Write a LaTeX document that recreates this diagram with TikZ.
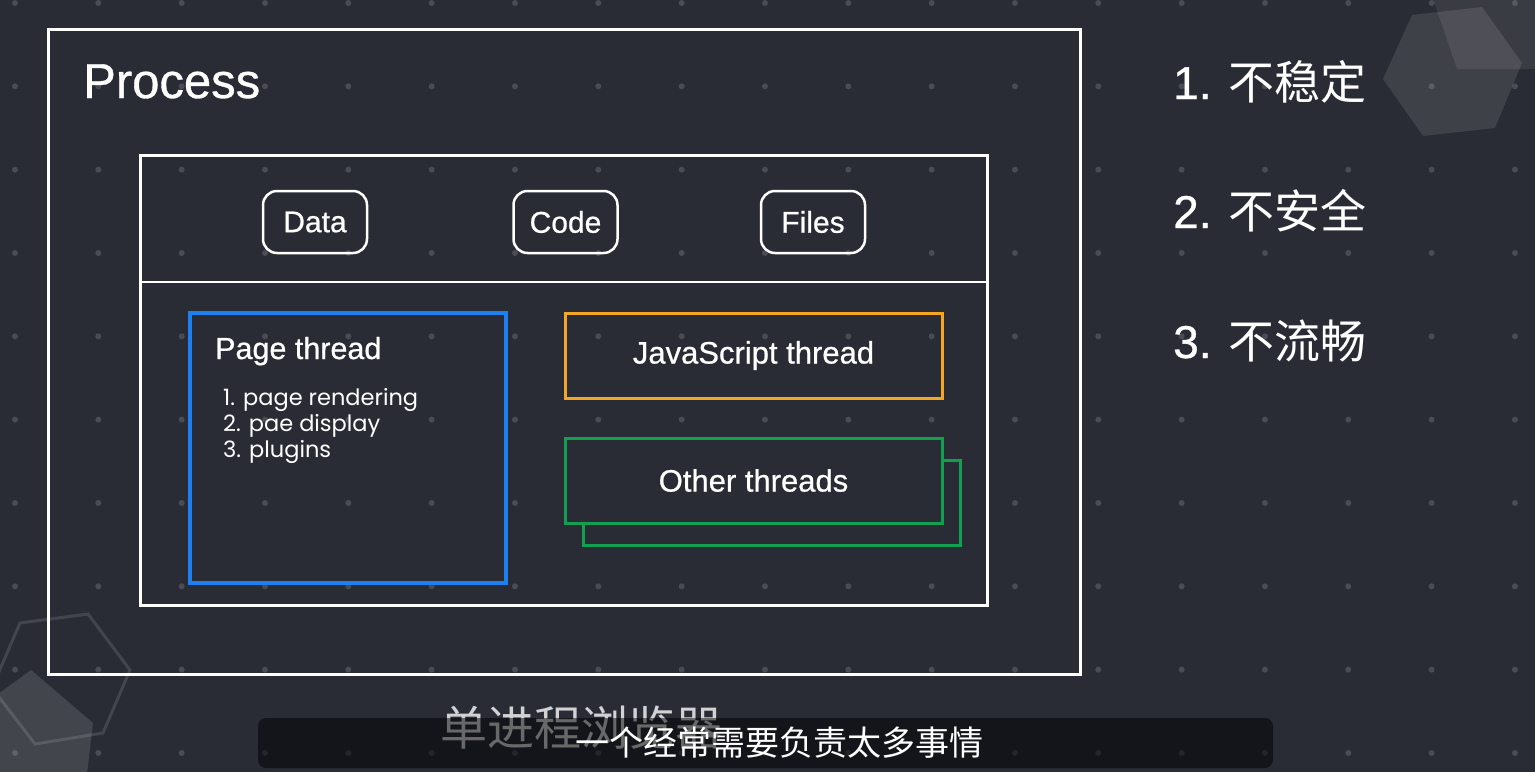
\documentclass[tikz,border=0pt]{standalone}
\usepackage{fontspec}
\setmainfont{Liberation Sans}[FakeBold=0.7]
\newfontfamily\heavy{Liberation Sans}[FakeBold=0.7]
\newfontfamily\cjkfont{Noto Sans CJK SC}
\newfontfamily\listfont{Poppins}
\usetikzlibrary{positioning}
\usepackage{xcolor}
\definecolor{slate}{HTML}{2A2C35}
\definecolor{dotgray}{HTML}{4A4C55}
\definecolor{pageblue}{HTML}{1E80F0}
\definecolor{jsorange}{HTML}{F5A623}
\definecolor{othergreen}{HTML}{10A050}
\definecolor{titlegray}{HTML}{D2D2D4}

\begin{document}
\begin{tikzpicture}[x=1pt, y=-1pt, every node/.style={text=white, inner sep=0pt},
    frame/.style={draw=white, line width=3pt},
    pill/.style={draw=white, line width=2.5pt, rounded corners=14pt, minimum width=104pt, minimum height=62pt, font=\heavy\fontsize{30}{34}\selectfont},
    thread/.style={line width=3pt, minimum width=377pt, minimum height=85pt, font=\heavy\fontsize{31}{34}\selectfont},
    issue/.style={anchor=base west, font=\heavy\fontsize{46}{52}\selectfont}]
  % background, dot grid and hexagons
  \fill[slate] (0,0) rectangle (1535,772);
  \useasboundingbox (0,0) rectangle (1535,772);
  \foreach \i in {0,...,18}
    \foreach \j in {0,...,9}
      \fill[dotgray] ({15+83.33*\i},{3+83.33*\j}) circle (3pt);
  \fill[white, opacity=0.1] (1383,79) -- (1412,15) -- (1482,7) -- (1522,63) -- (1495,128) -- (1423,136) -- cycle;
  \fill[white, opacity=0.08] (1430,-10) -- (1457,69) -- (1545,69) -- (1545,-10) -- cycle;
  \draw[white, opacity=0.12, line width=3pt] (20,623) -- (88,614) -- (130,670) -- (103,733) -- (35,744) -- (-8,688) -- cycle;
  \fill[white, opacity=0.12] (-10,700) -- (31,670) -- (93,723) -- (86,782) -- (-10,782) -- cycle;

  % process
  \node[frame, minimum width=1032pt, minimum height=645pt] (process) at (564,351.5) {};
  \node[anchor=base west, font=\heavy\fontsize{49}{58}\selectfont] (proclabel) at (83,98) {Process};
  \node[frame, minimum width=847pt, minimum height=450pt] (shared) at (563.5,380) {};
  \draw[white, line width=2.5pt] (140,282) -- (987,282);

  % shared resources
  \node[pill] (data) at (315,222) {Data};
  \node[pill, right=144pt of data] (code) {Code};
  \node[pill, right=141pt of code] (files) {Files};

  % threads
  \node[thread, draw=pageblue, line width=3.5pt, minimum width=316pt, minimum height=270pt] (page) at (348,448) {};
  \node[anchor=base west, font=\heavy\fontsize{30.5}{34}\selectfont] (pagelabel) at (215,359) {Page thread};
  \node[anchor=north west, align=left, font=\listfont\fontsize{22.5}{26}\selectfont] (pagelist) at (223,388)
    {1. page rendering\\2. pae display\\3. plugins};
  \node[thread, draw=jsorange] (js) at (753.5,355.5) {JavaScript thread};
  \node[thread, draw=othergreen] (otherback) at (771.5,502.5) {};
  \node[thread, draw=othergreen, fill=slate] (other) at (753.5,480.5) {Other threads};

  % issues
  \node[issue] (unstable) at (1173,99) {1. {\cjkfont 不稳定}};
  \node[issue] (unsafe) at (1173,228) {2. {\cjkfont 不安全}};
  \node[issue] (unsmooth) at (1173,358) {3. {\cjkfont 不流畅}};

  % caption and subtitle
  \node[anchor=base west, text=titlegray, font=\cjkfont\fontsize{47}{52}\selectfont] (caption) at (440,745) {单进程浏览器};
  \node[fill=black, fill opacity=0.5, rounded corners=8pt, minimum width=1015pt, minimum height=50pt] (subbar) at (765.5,743) {};
  \node[font=\cjkfont\fontsize{34}{38}\selectfont] (subtitle) at (779,743) {一个经常需要负责太多事情};
\end{tikzpicture}
\end{document}
